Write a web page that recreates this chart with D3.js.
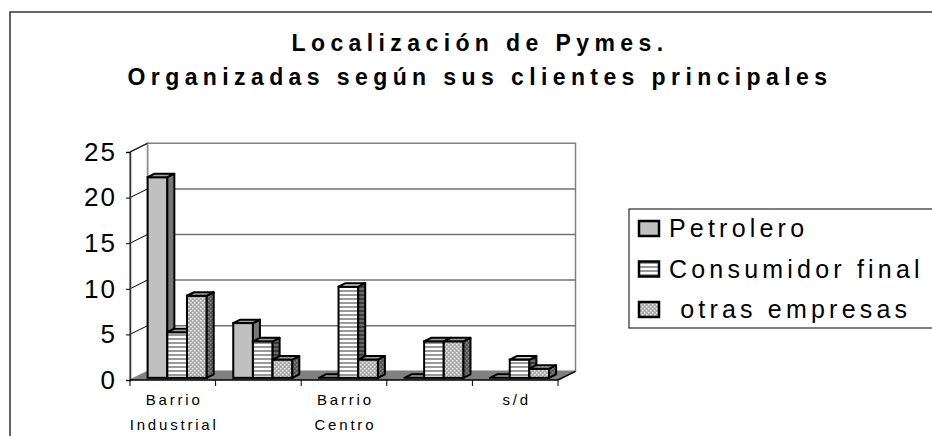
<!DOCTYPE html>
<html>
<head>
<meta charset="utf-8">
<script src="https://d3js.org/d3.v7.min.js"></script>
<style>
  body { margin: 0; background: #fff; }
  text { font-family: "Liberation Sans", Arial, sans-serif; fill: #000; }
</style>
</head>
<body>
<script>
// chart data
var categories = ["Barrio Industrial", "", "Barrio Centro", "", "s/d"];
var seriesNames = ["Petrolero", "Consumidor final", " otras empresas"];
var petrolero = [22, 6, 0, 0, 0];
var consumidorFinal = [5, 4, 10, 4, 2];
var otrasEmpresas = [9, 2, 2, 4, 1];
var yTicks = [0, 5, 10, 15, 20, 25];

var seriesValues = [petrolero, consumidorFinal, otrasEmpresas];

var width = 932, height = 436;

var svg = d3.select("body").append("svg")
    .attr("width", width)
    .attr("height", height);

// fill patterns (front / side / top of each series)
var defs = svg.append("defs");

function stripes(id, bg, fg) {
    var p = defs.append("pattern").attr("id", id)
        .attr("patternUnits", "userSpaceOnUse").attr("width", 4).attr("height", 4);
    p.append("rect").attr("width", 4).attr("height", 4).attr("fill", bg);
    p.append("rect").attr("y", 2).attr("width", 4).attr("height", 2).attr("fill", fg);
}
function dots(id, bg, fg) {
    var p = defs.append("pattern").attr("id", id)
        .attr("patternUnits", "userSpaceOnUse").attr("width", 4).attr("height", 4);
    p.append("rect").attr("width", 4).attr("height", 4).attr("fill", bg);
    p.append("rect").attr("x", 0).attr("y", 0).attr("width", 1.5).attr("height", 1.5).attr("fill", fg);
    p.append("rect").attr("x", 2).attr("y", 2).attr("width", 1.5).attr("height", 1.5).attr("fill", fg);
}
stripes("strFront", "#ffffff", "#9a9a9a");
stripes("strSide", "#6a6a6a", "#3a3a3a");
stripes("strTop", "#d8d8d8", "#9a9a9a");
dots("dotFront", "#a8a8a8", "#f0f0f0");
dots("dotSide", "#555555", "#8a8a8a");
dots("dotTop", "#909090", "#d0d0d0");

var fills = [
    { front: "#c0c0c0", side: "#777777", top: "#a4a4a4" },
    { front: "url(#strFront)", side: "url(#strSide)", top: "url(#strTop)" },
    { front: "url(#dotFront)", side: "url(#dotSide)", top: "url(#dotTop)" }
];

// outer frame (runs off the right and bottom edge)
svg.append("rect")
    .attr("x", 10).attr("y", 12)
    .attr("width", 960).attr("height", 500)
    .attr("fill", "none")
    .attr("stroke", "#333")
    .attr("stroke-width", 1.5);

// title
var title = svg.append("text")
    .attr("text-anchor", "middle")
    .style("font-weight", "bold")
    .style("font-size", "23px")
    .style("letter-spacing", "5.4px");
title.append("tspan").attr("x", 480).attr("y", 51).text("Localización de Pymes.");
title.append("tspan").attr("x", 480).attr("y", 85).text("Organizadas según sus clientes principales");

// scales
var x = d3.scaleBand()
    .domain(d3.range(categories.length))
    .range([130, 558]);
var y = d3.scaleLinear()
    .domain([0, 25])
    .range([380, 152]);
var groupW = x.bandwidth() * 0.69;
var xs = d3.scaleBand()
    .domain(seriesNames)
    .range([0, groupW]);

// 3d depth offset at full depth
var depth = { dx: 17.5, dy: -8.7 };
function at(px, py, f) {
    return [px + depth.dx * f, py + depth.dy * f];
}
function poly(points) {
    return points.map(function (p) { return p.join(","); }).join(" ");
}

var x0 = x.range()[0], x1 = x.range()[1];
var y0 = y(0), yTop = y(25);

// floor
svg.append("polygon")
    .attr("points", poly([at(x0, y0, 0), at(x1, y0, 0), at(x1, y0, 1), at(x0, y0, 1)]))
    .attr("fill", "#808080");

// back wall
svg.append("polygon")
    .attr("points", poly([at(x0, yTop, 1), at(x1, yTop, 1), at(x1, y0, 1), at(x0, y0, 1)]))
    .attr("fill", "#fff")
    .attr("stroke", "#808080")
    .attr("stroke-width", 1.5);

// left wall
svg.append("polygon")
    .attr("points", poly([at(x0, y0, 0), at(x0, yTop, 0), at(x0, yTop, 1), at(x0, y0, 1)]))
    .attr("fill", "#fff")
    .attr("stroke", "#8a8a8a")
    .attr("stroke-width", 1.5);

// gridlines
yTicks.filter(function (t) { return t > 0 && t < 25; }).forEach(function (t) {
    var a = at(x0, y(t), 1), b = at(x1, y(t), 1);
    svg.append("line")
        .attr("x1", a[0]).attr("y1", a[1]).attr("x2", b[0]).attr("y2", b[1])
        .attr("stroke", "#707070").attr("stroke-width", 1.5);
});
yTicks.filter(function (t) { return t > 0; }).forEach(function (t) {
    var a = at(x0, y(t), 0), b = at(x0, y(t), 1);
    svg.append("line")
        .attr("x1", a[0]).attr("y1", a[1]).attr("x2", b[0]).attr("y2", b[1])
        .attr("stroke", "#000").attr("stroke-width", 1);
});

// y axis
var yAxis = svg.append("g")
    .attr("transform", "translate(" + x0 + ",0)")
    .call(d3.axisLeft(y).tickValues(yTicks).tickSize(4).tickPadding(9));
yAxis.select(".domain").attr("stroke", "#333").attr("stroke-width", 1.5);
yAxis.selectAll(".tick line").attr("stroke", "#000");
yAxis.selectAll(".tick text")
    .style("font-size", "26px")
    .style("letter-spacing", "2px")
    .style("font-family", "'Liberation Sans', Arial, sans-serif")
    .attr("fill", "#000");

// bars
var f0 = 0.25, f1 = 0.65;
categories.forEach(function (c, i) {
    seriesNames.forEach(function (s, j) {
        var v = seriesValues[j][i];
        var bx = x(i) + (x.bandwidth() - groupW) / 2 + xs(s);
        var bw = xs.bandwidth();
        var g = svg.append("g").attr("class", "bar");
        if (v > 0) {
            var fp = at(bx, y(v), f0);
            g.append("rect")
                .attr("x", fp[0]).attr("y", fp[1])
                .attr("width", bw).attr("height", y(0) - y(v))
                .attr("fill", fills[j].front)
                .attr("stroke", "#000").attr("stroke-width", 2);
            g.append("polygon")
                .attr("points", poly([at(bx + bw, y(v), f0), at(bx + bw, y(v), f1),
                    at(bx + bw, y(0), f1), at(bx + bw, y(0), f0)]))
                .attr("fill", fills[j].side)
                .attr("stroke", "#000").attr("stroke-width", 2)
                .attr("stroke-linejoin", "round");
        }
        g.append("polygon")
            .attr("points", poly([at(bx, y(v), f0), at(bx + bw, y(v), f0),
                at(bx + bw, y(v), f1), at(bx, y(v), f1)]))
            .attr("fill", fills[j].top)
            .attr("stroke", "#000").attr("stroke-width", 2)
            .attr("stroke-linejoin", "round");
    });
});

// x axis line, right floor edge and category ticks
svg.append("polyline")
    .attr("points", poly([at(x0, y0, 0), at(x1, y0, 0), at(x1, y0, 1)]))
    .attr("fill", "none")
    .attr("stroke", "#000")
    .attr("stroke-width", 1.5);
d3.range(categories.length + 1).forEach(function (i) {
    var tx = i < categories.length ? x(i) : x1;
    svg.append("line")
        .attr("x1", tx).attr("x2", tx)
        .attr("y1", y0).attr("y2", y0 + 6)
        .attr("stroke", "#000").attr("stroke-width", 1);
});

// category labels
categories.forEach(function (c, i) {
    if (!c) return;
    var t = svg.append("text")
        .attr("text-anchor", "middle")
        .style("font-size", "15px")
        .style("letter-spacing", "2.8px");
    c.split(" ").forEach(function (word, k) {
        t.append("tspan")
            .attr("x", x(i) + x.bandwidth() / 2 + 1.4)
            .attr("y", 405 + k * 24.5)
            .text(word);
    });
});

// legend
var legend = svg.append("g");
legend.append("rect")
    .attr("x", 629).attr("y", 209)
    .attr("width", 340).attr("height", 119)
    .attr("fill", "#fff")
    .attr("stroke", "#000")
    .attr("stroke-width", 1);
var legendFills = ["#c0c0c0", "url(#strFront)", "url(#dotFront)"];
seriesNames.forEach(function (s, j) {
    var ry = 221 + j * 40.5;
    legend.append("rect")
        .attr("x", 639).attr("y", ry)
        .attr("width", 20).attr("height", 15)
        .attr("fill", legendFills[j])
        .attr("stroke", "#000").attr("stroke-width", 2.5);
    legend.append("text")
        .attr("x", 669).attr("y", ry + 16)
        .attr("xml:space", "preserve")
        .style("white-space", "pre")
        .style("font-size", "25px")
        .style("letter-spacing", "4.2px")
        .text(s);
});
</script>
</body>
</html>
